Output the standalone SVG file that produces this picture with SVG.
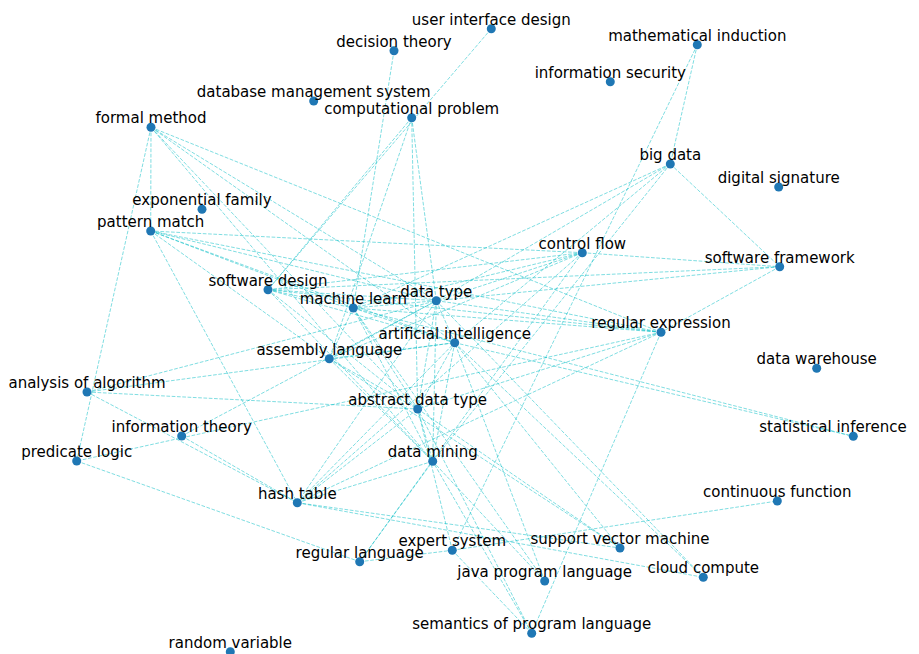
<svg xmlns="http://www.w3.org/2000/svg" width="919" height="654" viewBox="0 0 919 654">
<style>
.e line{stroke:#00bcc4;stroke-opacity:0.5;stroke-width:1;stroke-dasharray:3.7 1.6;fill:none}
.n circle{fill:#1f77b4}
.n text{font-family:"DejaVu Sans","Liberation Sans",sans-serif;font-size:15px;text-anchor:middle;fill:#000}
</style>
<rect width="919" height="654" fill="#fff"/>
<g id="connectors" class="e">
<line x1="491.3" y1="28.7" x2="268" y2="289.7"/>
<line x1="394" y1="50.7" x2="353.3" y2="308"/>
<line x1="697.3" y1="44.7" x2="670.3" y2="164"/>
<line x1="697.3" y1="44.7" x2="452.3" y2="550.3"/>
<line x1="670.3" y1="164" x2="779.7" y2="266.7"/>
<line x1="670.3" y1="164" x2="353.3" y2="308"/>
<line x1="670.3" y1="164" x2="436.3" y2="300.7"/>
<line x1="670.3" y1="164" x2="454.7" y2="342.7"/>
<line x1="670.3" y1="164" x2="432.7" y2="461.3"/>
<line x1="582.3" y1="252.7" x2="779.7" y2="266.7"/>
<line x1="582.3" y1="252.7" x2="436.3" y2="300.7"/>
<line x1="582.3" y1="252.7" x2="353.3" y2="308"/>
<line x1="582.3" y1="252.7" x2="268" y2="289.7"/>
<line x1="582.3" y1="252.7" x2="150.7" y2="231"/>
<line x1="582.3" y1="252.7" x2="329.3" y2="358.7"/>
<line x1="582.3" y1="252.7" x2="359.7" y2="561.7"/>
<line x1="582.3" y1="252.7" x2="297.3" y2="502.7"/>
<line x1="779.7" y1="266.7" x2="661" y2="332.3"/>
<line x1="779.7" y1="266.7" x2="436.3" y2="300.7"/>
<line x1="779.7" y1="266.7" x2="268" y2="289.7"/>
<line x1="661" y1="332.3" x2="151" y2="127.3"/>
<line x1="661" y1="332.3" x2="150.7" y2="231"/>
<line x1="661" y1="332.3" x2="76.7" y2="461"/>
<line x1="661" y1="332.3" x2="297.3" y2="502.7"/>
<line x1="661" y1="332.3" x2="417.7" y2="409"/>
<line x1="661" y1="332.3" x2="531.7" y2="633.3"/>
<line x1="661" y1="332.3" x2="353.3" y2="308"/>
<line x1="661" y1="332.3" x2="436.3" y2="300.7"/>
<line x1="661" y1="332.3" x2="268" y2="289.7"/>
<line x1="151" y1="127.3" x2="150.7" y2="231"/>
<line x1="151" y1="127.3" x2="76.7" y2="461"/>
<line x1="151" y1="127.3" x2="436.3" y2="300.7"/>
<line x1="151" y1="127.3" x2="454.7" y2="342.7"/>
<line x1="151" y1="127.3" x2="417.7" y2="409"/>
<line x1="151" y1="127.3" x2="432.7" y2="461.3"/>
<line x1="150.7" y1="231" x2="436.3" y2="300.7"/>
<line x1="150.7" y1="231" x2="454.7" y2="342.7"/>
<line x1="150.7" y1="231" x2="353.3" y2="308"/>
<line x1="150.7" y1="231" x2="297.3" y2="502.7"/>
<line x1="150.7" y1="231" x2="329.3" y2="358.7"/>
<line x1="411.7" y1="117.7" x2="268" y2="289.7"/>
<line x1="411.7" y1="117.7" x2="329.3" y2="358.7"/>
<line x1="411.7" y1="117.7" x2="436.3" y2="300.7"/>
<line x1="411.7" y1="117.7" x2="417.7" y2="409"/>
<line x1="87" y1="392" x2="436.3" y2="300.7"/>
<line x1="87" y1="392" x2="454.7" y2="342.7"/>
<line x1="87" y1="392" x2="417.7" y2="409"/>
<line x1="87" y1="392" x2="297.3" y2="502.7"/>
<line x1="181.7" y1="436" x2="436.3" y2="300.7"/>
<line x1="181.7" y1="436" x2="297.3" y2="502.7"/>
<line x1="76.7" y1="461" x2="359.7" y2="561.7"/>
<line x1="297.3" y1="502.7" x2="620" y2="548"/>
<line x1="297.3" y1="502.7" x2="703.3" y2="577.3"/>
<line x1="297.3" y1="502.7" x2="417.7" y2="409"/>
<line x1="297.3" y1="502.7" x2="432.7" y2="461.3"/>
<line x1="297.3" y1="502.7" x2="454.7" y2="342.7"/>
<line x1="297.3" y1="502.7" x2="436.3" y2="300.7"/>
<line x1="359.7" y1="561.7" x2="452.3" y2="550.3"/>
<line x1="359.7" y1="561.7" x2="432.7" y2="461.3"/>
<line x1="452.3" y1="550.3" x2="777.3" y2="501"/>
<line x1="452.3" y1="550.3" x2="531.7" y2="633.3"/>
<line x1="452.3" y1="550.3" x2="417.7" y2="409"/>
<line x1="544.7" y1="581" x2="454.7" y2="342.7"/>
<line x1="544.7" y1="581" x2="353.3" y2="308"/>
<line x1="531.7" y1="633.3" x2="417.7" y2="409"/>
<line x1="531.7" y1="633.3" x2="432.7" y2="461.3"/>
<line x1="454.7" y1="342.7" x2="853.3" y2="436.3"/>
<line x1="353.3" y1="308" x2="853.3" y2="436.3"/>
<line x1="454.7" y1="342.7" x2="620" y2="548"/>
<line x1="417.7" y1="409" x2="620" y2="548"/>
<line x1="454.7" y1="342.7" x2="703.3" y2="577.3"/>
<line x1="436.3" y1="300.7" x2="703.3" y2="577.3"/>
<line x1="268" y1="289.7" x2="353.3" y2="308"/>
<line x1="268" y1="289.7" x2="436.3" y2="300.7"/>
<line x1="268" y1="289.7" x2="454.7" y2="342.7"/>
<line x1="268" y1="289.7" x2="417.7" y2="409"/>
<line x1="268" y1="289.7" x2="432.7" y2="461.3"/>
<line x1="353.3" y1="308" x2="436.3" y2="300.7"/>
<line x1="353.3" y1="308" x2="454.7" y2="342.7"/>
<line x1="353.3" y1="308" x2="417.7" y2="409"/>
<line x1="353.3" y1="308" x2="432.7" y2="461.3"/>
<line x1="353.3" y1="308" x2="329.3" y2="358.7"/>
<line x1="329.3" y1="358.7" x2="436.3" y2="300.7"/>
<line x1="329.3" y1="358.7" x2="454.7" y2="342.7"/>
<line x1="329.3" y1="358.7" x2="417.7" y2="409"/>
<line x1="329.3" y1="358.7" x2="432.7" y2="461.3"/>
<line x1="329.3" y1="358.7" x2="620" y2="548"/>
<line x1="436.3" y1="300.7" x2="454.7" y2="342.7"/>
<line x1="436.3" y1="300.7" x2="417.7" y2="409"/>
<line x1="436.3" y1="300.7" x2="432.7" y2="461.3"/>
<line x1="454.7" y1="342.7" x2="417.7" y2="409"/>
<line x1="454.7" y1="342.7" x2="432.7" y2="461.3"/>
<line x1="417.7" y1="409" x2="432.7" y2="461.3"/>
<line x1="432.7" y1="461.3" x2="544.7" y2="581"/>
</g>
<g id="n-uid" class="n"><circle cx="491.3" cy="28.7" r="4.5"/><text x="491.3" y="24.5">user interface design</text></g>
<g id="n-dt" class="n"><circle cx="394" cy="50.7" r="4.5"/><text x="394" y="46.5">decision theory</text></g>
<g id="n-mi" class="n"><circle cx="697.3" cy="44.7" r="4.5"/><text x="697.3" y="40.5">mathematical induction</text></g>
<g id="n-is" class="n"><circle cx="610.3" cy="81.7" r="4.5"/><text x="610.3" y="77.5">information security</text></g>
<g id="n-dbms" class="n"><circle cx="313.7" cy="101" r="4.5"/><text x="313.7" y="96.8">database management system</text></g>
<g id="n-cp" class="n"><circle cx="411.7" cy="117.7" r="4.5"/><text x="411.7" y="113.5">computational problem</text></g>
<g id="n-fm" class="n"><circle cx="151" cy="127.3" r="4.5"/><text x="151" y="123.1">formal method</text></g>
<g id="n-bd" class="n"><circle cx="670.3" cy="164" r="4.5"/><text x="670.3" y="159.8">big data</text></g>
<g id="n-ds" class="n"><circle cx="778.7" cy="187" r="4.5"/><text x="778.7" y="182.8">digital signature</text></g>
<g id="n-ef" class="n"><circle cx="202" cy="209.3" r="4.5"/><text x="202" y="205.1">exponential family</text></g>
<g id="n-pm" class="n"><circle cx="150.7" cy="231" r="4.5"/><text x="150.7" y="226.8">pattern match</text></g>
<g id="n-cf" class="n"><circle cx="582.3" cy="252.7" r="4.5"/><text x="582.3" y="248.5">control flow</text></g>
<g id="n-sf" class="n"><circle cx="779.7" cy="266.7" r="4.5"/><text x="779.7" y="262.5">software framework</text></g>
<g id="n-sd" class="n"><circle cx="268" cy="289.7" r="4.5"/><text x="268" y="285.5">software design</text></g>
<g id="n-ml" class="n"><circle cx="353.3" cy="308" r="4.5"/><text x="353.3" y="303.8">machine learn</text></g>
<g id="n-dty" class="n"><circle cx="436.3" cy="300.7" r="4.5"/><text x="436.3" y="296.5">data type</text></g>
<g id="n-ai" class="n"><circle cx="454.7" cy="342.7" r="4.5"/><text x="454.7" y="338.5">artificial intelligence</text></g>
<g id="n-re" class="n"><circle cx="661" cy="332.3" r="4.5"/><text x="661" y="328.1">regular expression</text></g>
<g id="n-al" class="n"><circle cx="329.3" cy="358.7" r="4.5"/><text x="329.3" y="354.5">assembly language</text></g>
<g id="n-dw" class="n"><circle cx="816.7" cy="368.3" r="4.5"/><text x="816.7" y="364.1">data warehouse</text></g>
<g id="n-aa" class="n"><circle cx="87" cy="392" r="4.5"/><text x="87" y="387.8">analysis of algorithm</text></g>
<g id="n-adt" class="n"><circle cx="417.7" cy="409" r="4.5"/><text x="417.7" y="404.8">abstract data type</text></g>
<g id="n-si" class="n"><circle cx="853.3" cy="436.3" r="4.5"/><text x="833" y="432.1">statistical inference</text></g>
<g id="n-it" class="n"><circle cx="181.7" cy="436" r="4.5"/><text x="181.7" y="431.8">information theory</text></g>
<g id="n-pl" class="n"><circle cx="76.7" cy="461" r="4.5"/><text x="76.7" y="456.8">predicate logic</text></g>
<g id="n-dm" class="n"><circle cx="432.7" cy="461.3" r="4.5"/><text x="432.7" y="457.1">data mining</text></g>
<g id="n-ht" class="n"><circle cx="297.3" cy="502.7" r="4.5"/><text x="297.3" y="498.5">hash table</text></g>
<g id="n-cfn" class="n"><circle cx="777.3" cy="501" r="4.5"/><text x="777.3" y="496.8">continuous function</text></g>
<g id="n-svm" class="n"><circle cx="620" cy="548" r="4.5"/><text x="620" y="543.8">support vector machine</text></g>
<g id="n-es" class="n"><circle cx="452.3" cy="550.3" r="4.5"/><text x="452.3" y="546.1">expert system</text></g>
<g id="n-rl" class="n"><circle cx="359.7" cy="561.7" r="4.5"/><text x="359.7" y="557.5">regular language</text></g>
<g id="n-cc" class="n"><circle cx="703.3" cy="577.3" r="4.5"/><text x="703.3" y="573.1">cloud compute</text></g>
<g id="n-jpl" class="n"><circle cx="544.7" cy="581" r="4.5"/><text x="544.7" y="576.8">java program language</text></g>
<g id="n-spl" class="n"><circle cx="531.7" cy="633.3" r="4.5"/><text x="531.7" y="629.1">semantics of program language</text></g>
<g id="n-rv" class="n"><circle cx="230.3" cy="651.7" r="4.5"/><text x="230.3" y="647.5">random variable</text></g>
</svg>
